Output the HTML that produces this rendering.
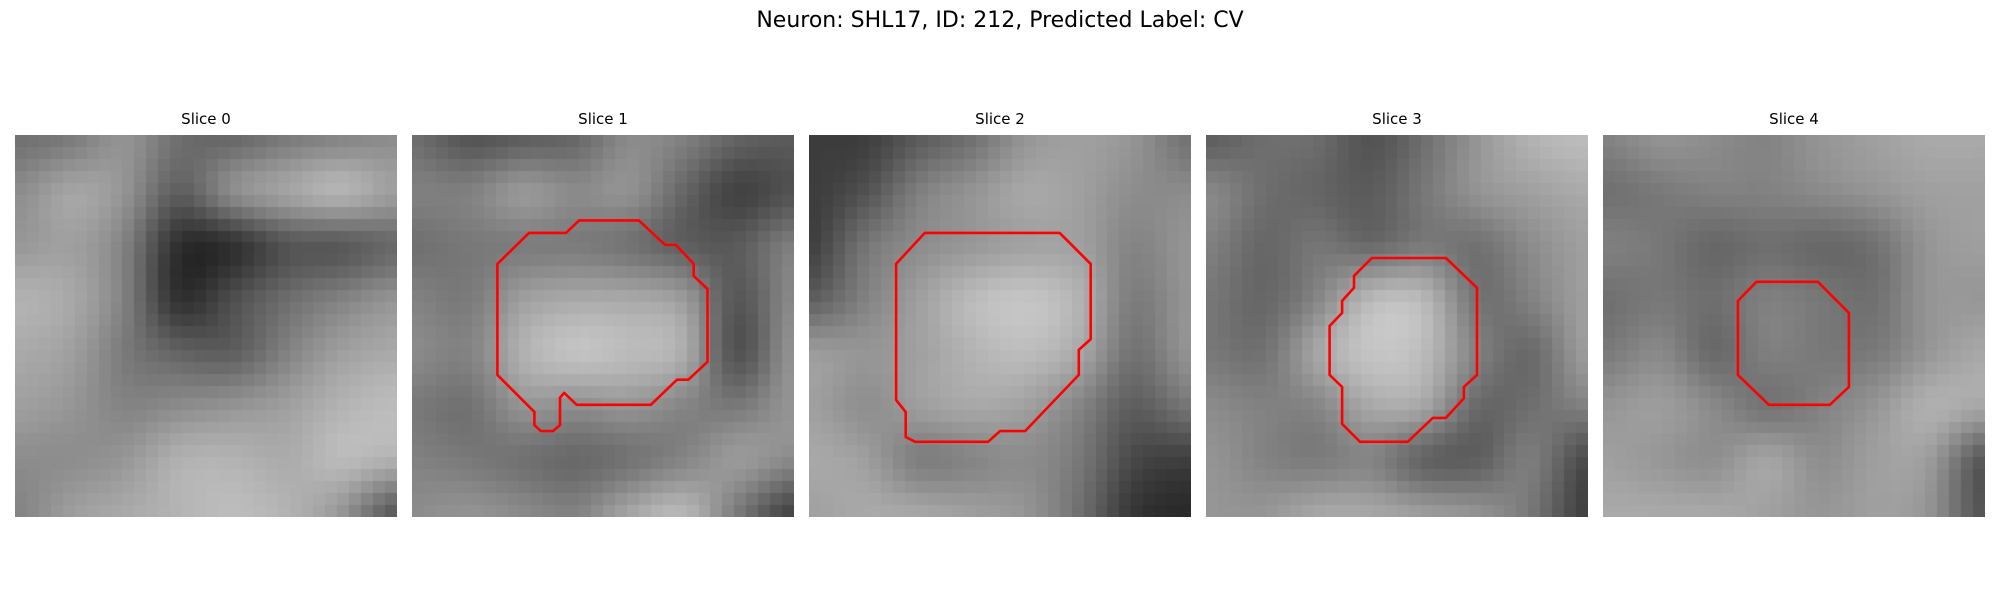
<!DOCTYPE html>
<html><head><meta charset="utf-8">
<style>
body{margin:0;width:2000px;height:600px;background:#fff;position:relative;overflow:hidden;font-family:"DejaVu Sans","Liberation Sans",sans-serif;}
#title{position:absolute;left:0;width:2000px;top:8px;text-align:center;font-size:22px;color:#000;}
.st{position:absolute;top:110px;width:382px;text-align:center;font-size:15px;color:#000;}
canvas{position:absolute;top:135px;width:382px;height:382px;}
svg.ov{position:absolute;top:135px;width:382px;height:382px;}
</style></head><body>
<div id="title">Neuron: SHL17, ID: 212, Predicted Label: CV</div>
<div id="root"></div>
<script>
const panelLefts=[15,412,809,1206,1603];
const sliceTitles=["Slice 0","Slice 1","Slice 2","Slice 3","Slice 4"];
const gray0=[[110,120,150,110,100,120,130,140],[140,170,150,90,150,170,190,160],[150,160,130,40,40,80,80,100],[180,170,130,40,80,110,130,150],[170,160,120,100,90,130,160,170],[160,150,130,140,150,160,180,190],[140,140,150,180,180,170,190,180],[130,160,170,180,190,180,150,80]];
const gray1=[[110,80,90,100,140,130,100,90],[130,130,160,140,150,100,60,80],[110,120,120,120,110,90,90,130],[130,120,160,170,170,160,80,140],[140,130,180,200,190,180,70,150],[120,110,150,140,150,130,120,150],[130,120,110,100,110,130,160,140],[140,150,140,130,170,190,120,60]];
const gray2=[[60,60,90,110,150,160,150,110],[60,80,130,150,170,160,140,140],[60,120,140,150,160,160,130,150],[90,130,160,190,200,180,120,150],[160,150,160,180,190,170,110,150],[160,140,160,170,160,130,90,120],[170,160,120,130,140,120,70,60],[160,170,170,160,150,110,50,40]];
const gray3=[[90,110,110,80,110,150,180,190],[140,110,100,90,120,150,160,170],[130,100,120,100,120,110,140,160],[120,100,130,190,190,110,130,160],[120,110,170,200,190,130,100,160],[140,130,130,170,170,100,110,130],[150,130,120,130,90,90,130,70],[150,150,170,170,160,150,120,60]];
const gray4=[[130,150,140,130,150,160,170,170],[110,120,130,130,140,150,160,160],[130,120,100,110,100,110,150,160],[110,120,110,130,120,110,150,150],[120,140,100,130,120,120,150,170],[150,160,140,110,130,150,180,170],[160,150,140,170,140,160,160,80],[170,170,170,160,150,160,150,80]];
const grays=[gray0,gray1,gray2,gray3,gray4];
const contour1=[[14,7.15],[19,7.15],[21.2,9.2],[22.1,9.2],[23.6,10.8],[23.6,11.8],[24.75,12.9],[24.75,19],[23.15,20.5],[22.2,20.5],[20,22.6],[13.8,22.6],[12.75,21.6],[12.4,22],[12.4,24.3],[11.8,24.8],[10.8,24.8],[10.25,24.3],[10.25,23.2],[7.15,20.1],[7.15,10.8],[9.8,8.2],[12.9,8.2]];
const contour2=[[9.7,8.2],[7.3,10.8],[7.3,22.2],[8.1,23.2],[8.1,25.3],[8.9,25.7],[15,25.7],[16,24.8],[18.1,24.8],[22.6,20.1],[22.6,18],[23.6,17.1],[23.6,10.8],[21,8.2]];
const contour3=[[13.9,10.3],[20.1,10.3],[22.7,12.8],[22.7,20.1],[21.6,21.1],[21.6,22.05],[20.1,23.7],[19,23.7],[16.9,25.7],[12.9,25.7],[11.4,24.2],[11.4,21.1],[10.35,20.1],[10.35,16],[11.4,14.9],[11.4,13.9],[12.4,12.8],[12.4,11.8]];
const contour4=[[12.85,12.3],[18,12.3],[20.6,14.9],[20.6,21.1],[19,22.6],[13.9,22.6],[11.3,20.1],[11.3,13.9]];
const contours=[null,contour1,contour2,contour3,contour4];
const root=document.getElementById('root');
const S=382/32;
for(let p=0;p<5;p++){
  const L=panelLefts[p];
  const t=document.createElement('div');t.className='st';t.style.left=L+'px';t.textContent=sliceTitles[p];
  
  
  root.appendChild(t);
  const small=document.createElement('canvas');small.width=8;small.height=8;
  const sc=small.getContext('2d');const id=sc.createImageData(8,8);
  const g=grays[p];
  for(let r=0;r<8;r++)for(let c=0;c<8;c++){const i=(r*8+c)*4;const v=g[r][c];id.data[i]=v;id.data[i+1]=v;id.data[i+2]=v;id.data[i+3]=255;}
  sc.putImageData(id,0,0);
  const mid=document.createElement('canvas');mid.width=32;mid.height=32;
  const mc=mid.getContext('2d');mc.imageSmoothingEnabled=true;mc.imageSmoothingQuality='high';
  mc.drawImage(small,-2,-2,36,36);
  const cv=document.createElement('canvas');cv.width=382;cv.height=382;cv.style.left=L+'px';
  
  
  const ctx=cv.getContext('2d');ctx.imageSmoothingEnabled=false;
  ctx.drawImage(mid,0,0,382,382);
  root.appendChild(cv);
  if(contours[p]){
    const ns='http://www.w3.org/2000/svg';
    const svg=document.createElementNS(ns,'svg');svg.setAttribute('class','ov');svg.style.left=L+'px';
    svg.setAttribute('viewBox','0 0 382 382');
    
    
    const pg=document.createElementNS(ns,'polygon');
    pg.setAttribute('points',contours[p].map(q=>(q[0]*S).toFixed(1)+','+(q[1]*S).toFixed(1)).join(' '));
    pg.setAttribute('fill','none');pg.setAttribute('stroke','#ff0000');pg.setAttribute('stroke-width','2.6');pg.setAttribute('stroke-linejoin','round');
    
    
    svg.appendChild(pg);root.appendChild(svg);
  }
}
</script>
</body></html>
